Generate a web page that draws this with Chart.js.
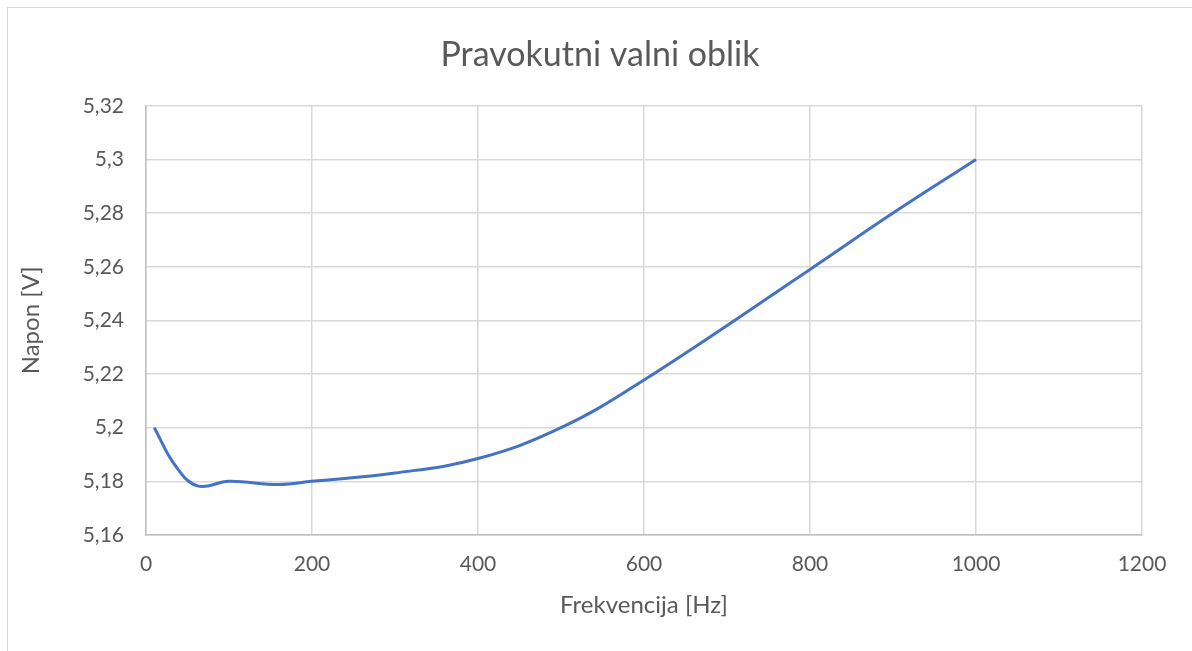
<!DOCTYPE html>
<html>
<head>
<meta charset="utf-8">
<script src="https://cdn.jsdelivr.net/npm/chart.js@4.4.0/dist/chart.umd.min.js"></script>
<style>
  html, body { margin: 0; padding: 0; background: #fff; }
  #wrap { position: relative; width: 1192px; height: 651px; }
  #frame { position: absolute; left: 7px; top: 7px; width: 1200px; height: 700px; border: 1px solid #d9d9d9; box-sizing: border-box; }
  canvas { position: absolute; left: 0; top: 0; }
</style>
</head>
<body>
<div id="wrap">
  <div id="frame"></div>
  <canvas id="chart" width="1192" height="651"></canvas>
</div>
<script>
// Frequency [Hz] and voltage [V]
const freq   = [10, 35, 62, 100, 160, 200, 300, 400, 500, 600, 800, 900, 1000];
const napon  = [5.2, 5.186, 5.1783, 5.18, 5.1788, 5.18, 5.1831, 5.1885, 5.2, 5.2178, 5.259, 5.28, 5.3];

const xTicks = [0, 200, 400, 600, 800, 1000, 1200];
const yTicks = [5.16, 5.18, 5.2, 5.22, 5.24, 5.26, 5.28, 5.3, 5.32];

const textColor = '#595959';
const gridColor = '#d9d9d9';
const fontFamily = "Lato, 'Open Sans', sans-serif";

// comma as decimal separator, like the source
const fmt = v => String(Number(v.toFixed(2))).replace('.', ',');

new Chart(document.getElementById('chart').getContext('2d'), {
  type: 'line',
  data: {
    datasets: [{
      label: 'Napon',
      data: freq.map((f, i) => ({ x: f, y: napon[i] })),
      borderColor: '#4472c4',
      borderWidth: 3,
      pointRadius: 0,
      tension: 0.4,
      fill: false,
    }],
  },
  options: {
    responsive: false,
    animation: false,
    layout: { padding: { left: 8, right: 0, top: 0, bottom: 0 } },
    plugins: {
      legend: { display: false },
      tooltip: { enabled: false },
      title: {
        display: true,
        text: 'Pravokutni valni oblik',
        color: textColor,
        font: { family: fontFamily, size: 34, weight: 'normal' },
        padding: { top: 35, bottom: 30 },
      },
    },
    scales: {
      x: {
        type: 'linear',
        min: 0, max: 1200,
        afterBuildTicks: s => { s.ticks = xTicks.map(v => ({ value: v })); },
        afterFit: s => { s.height = 116; },
        ticks: { color: textColor, font: { family: fontFamily, size: 21 }, padding: 17, maxRotation: 0, callback: v => String(v) },
        grid: { color: gridColor, lineWidth: 1.5, drawTicks: false },
        border: { display: true, color: '#bfbfbf', width: 1.5 },
        title: {
          display: true,
          text: 'Frekvencija [Hz]',
          color: textColor,
          font: { family: fontFamily, size: 24 },
          padding: { top: 0, bottom: 31 },
        },
      },
      y: {
        min: 5.16, max: 5.32,
        afterBuildTicks: s => { s.ticks = yTicks.map(v => ({ value: v })); },
        afterFit: s => { s.width = 138; },
        ticks: { color: textColor, font: { family: fontFamily, size: 21 }, padding: 22, callback: v => fmt(v) },
        grid: { color: gridColor, lineWidth: 1.5, drawTicks: false },
        border: { display: true, color: '#bfbfbf', width: 1.5 },
        title: {
          display: true,
          text: 'Napon [V]',
          color: textColor,
          font: { family: fontFamily, size: 24 },
          padding: { top: 9, bottom: 0 },
        },
      },
      // empty right-hand strip so the plot ends where the source's does
      yRight: {
        position: 'right',
        min: 0, max: 1,
        afterFit: s => { s.width = 50; },
        ticks: { display: false },
        grid: { display: false },
        border: { display: false },
      },
    },
  },
});
</script>
</body>
</html>
